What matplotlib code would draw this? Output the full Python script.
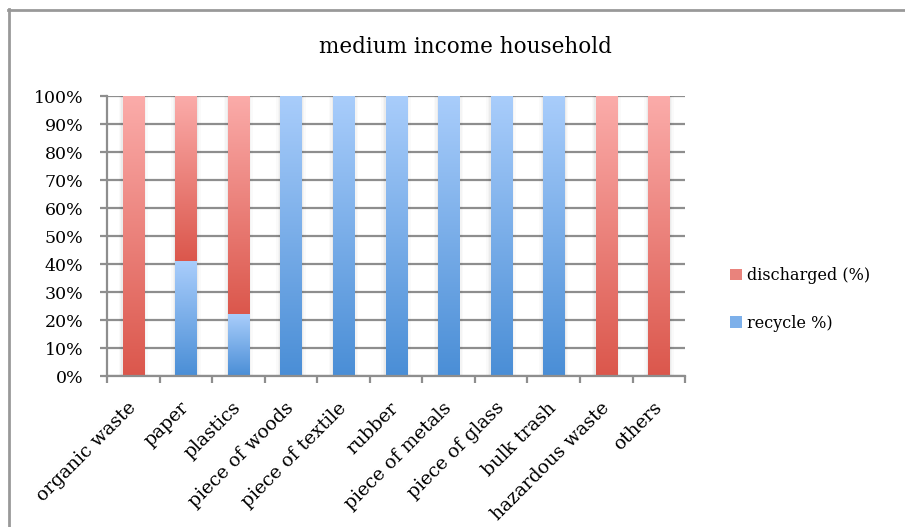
import numpy as np
import matplotlib.pyplot as plt
from matplotlib.colors import LinearSegmentedColormap
from matplotlib.patches import Patch, Rectangle
from matplotlib.lines import Line2D

categories = ["organic waste", "paper", "plastics", "piece of woods",
              "piece of textile", "rubber", "piece of metals", "piece of glass",
              "bulk trash", "hazardous waste", "others"]
recycle = [0, 41, 22, 100, 100, 100, 100, 100, 100, 0, 0]
discharged = [100, 59, 78, 0, 0, 0, 0, 0, 0, 100, 100]

red_cmap = LinearSegmentedColormap.from_list("red_grad", ["#db574c", "#fbacaa"])
blue_cmap = LinearSegmentedColormap.from_list("blue_grad", ["#4a8ed6", "#a9cdfb"])
grid_color = "#8e8e8e"

plt.rcParams["font.family"] = "DejaVu Serif"

fig = plt.figure(figsize=(9.05, 5.27), dpi=100)
ax = fig.add_axes([0.1182, 0.2865, 0.757 - 0.1182, 0.8178 - 0.2865])

x = np.arange(len(categories))
width = 0.4
bars_rec = ax.bar(x, recycle, width, color="none", label="recycle %)")
bars_dis = ax.bar(x, discharged, width, bottom=recycle, color="none",
                  label="discharged (%)")


def fill_gradient(bars, cmap):
    grad = np.linspace(0, 1, 256).reshape(-1, 1)
    for b in bars:
        h = b.get_height()
        if h <= 0:
            continue
        x0, y0, w = b.get_x(), b.get_y(), b.get_width()
        # faint shadow around the bar
        for k, a in zip([0.08, 0.05, 0.025], [0.02, 0.025, 0.035]):
            ax.add_patch(Rectangle((x0 - k, y0), w + 2 * k, h, color="#000000",
                                   alpha=a, lw=0, zorder=1.5))
        im = ax.imshow(grad, cmap=cmap, origin="lower", aspect="auto",
                       extent=[x0, x0 + w, y0, y0 + h], zorder=2,
                       interpolation="bilinear")
        im.set_clip_path(b)


fill_gradient(bars_rec, blue_cmap)
fill_gradient(bars_dis, red_cmap)

ax.set_xlim(-0.5, len(categories) - 0.5)
ax.set_ylim(0, 100)
ax.set_yticks(np.arange(0, 101, 10))
ax.set_yticklabels([f"{v}%" for v in range(0, 101, 10)])
ax.yaxis.grid(True, color=grid_color, lw=1.6)
ax.set_axisbelow(True)

ax.set_xticks(x)
ax.set_xticklabels(categories, rotation=45, ha="right", va="center",
                   rotation_mode="anchor")
ax.set_xticks(np.arange(-0.5, len(categories), 1), minor=True)
ax.tick_params(axis="x", which="major", length=0, pad=21, labelsize=13.5)
ax.tick_params(axis="x", which="minor", length=5, width=1.6, color=grid_color)
ax.tick_params(axis="y", length=5, width=1.6, color=grid_color, pad=12,
               labelsize=12.5)

for side in ["top", "right"]:
    ax.spines[side].set_visible(False)
for side in ["left", "bottom"]:
    ax.spines[side].set_color(grid_color)
    ax.spines[side].set_linewidth(1.6)

fig.text(0.514, 0.911, "medium income household", ha="center", va="center",
         fontsize=15.5)

handles = [Patch(facecolor="#e9837c", label="discharged (%)"),
           Patch(facecolor="#7db0ea", label="recycle %)")]
fig.legend(handles=handles, loc="center left", bbox_to_anchor=(0.791, 0.432),
           frameon=False, handlelength=0.75, handleheight=0.75,
           handletextpad=0.3, labelspacing=1.9, fontsize=11.5)

# outer frame: top and left edges
fig.add_artist(Line2D([8 / 905, 1], [1 - 10 / 527] * 2, color="#999999",
                      lw=2, transform=fig.transFigure))
fig.add_artist(Line2D([9 / 905] * 2, [0, 1 - 9 / 527], color="#999999",
                      lw=2, transform=fig.transFigure))

fig.savefig("out.png", dpi=100)
